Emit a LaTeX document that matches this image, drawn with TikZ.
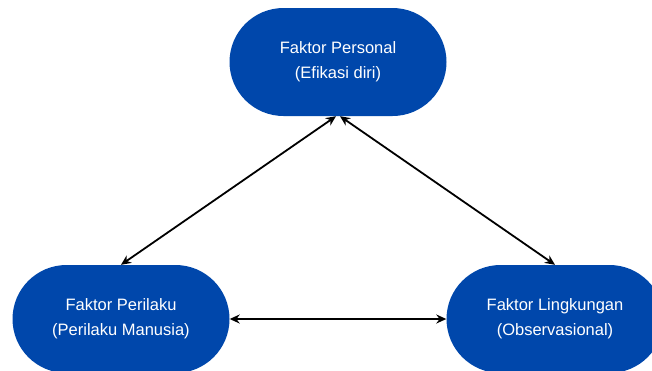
\documentclass[tikz,border=0pt]{standalone}
\usepackage{fontspec}
\setmainfont{Liberation Sans}
\usepackage{xcolor}
\usepackage{tikz}
\usetikzlibrary{arrows.meta,positioning,calc}
\definecolor{faktorblue}{HTML}{0047AB}

\begin{document}
\begin{tikzpicture}[x=1pt,y=-1pt,
    faktor/.style={rectangle,rounded corners=54pt,fill=faktorblue,text=white,
        minimum width=217pt,minimum height=108pt,align=center,
        font=\fontsize{16.5}{25}\selectfont},
    link/.style={{Stealth[length=10pt,width=9pt]}-{Stealth[length=10pt,width=9pt]},
        line width=1.8pt,black}]

  \useasboundingbox (0,0) rectangle (652,370);

  \node[faktor] (personal) at (338,62) {Faktor Personal\\(Efikasi diri)};
  \node[faktor] (perilaku) at (121,319) {Faktor Perilaku\\(Perilaku Manusia)};
  \node[faktor] (lingkungan) at (555,319) {Faktor Lingkungan\\(Observasional)};

  \draw[link] ([xshift=-2pt]personal.south) -- (perilaku.north);
  \draw[link] ([xshift=2pt]personal.south) -- (lingkungan.north);
  \draw[link] (perilaku.east) -- (lingkungan.west);

\end{tikzpicture}
\end{document}
